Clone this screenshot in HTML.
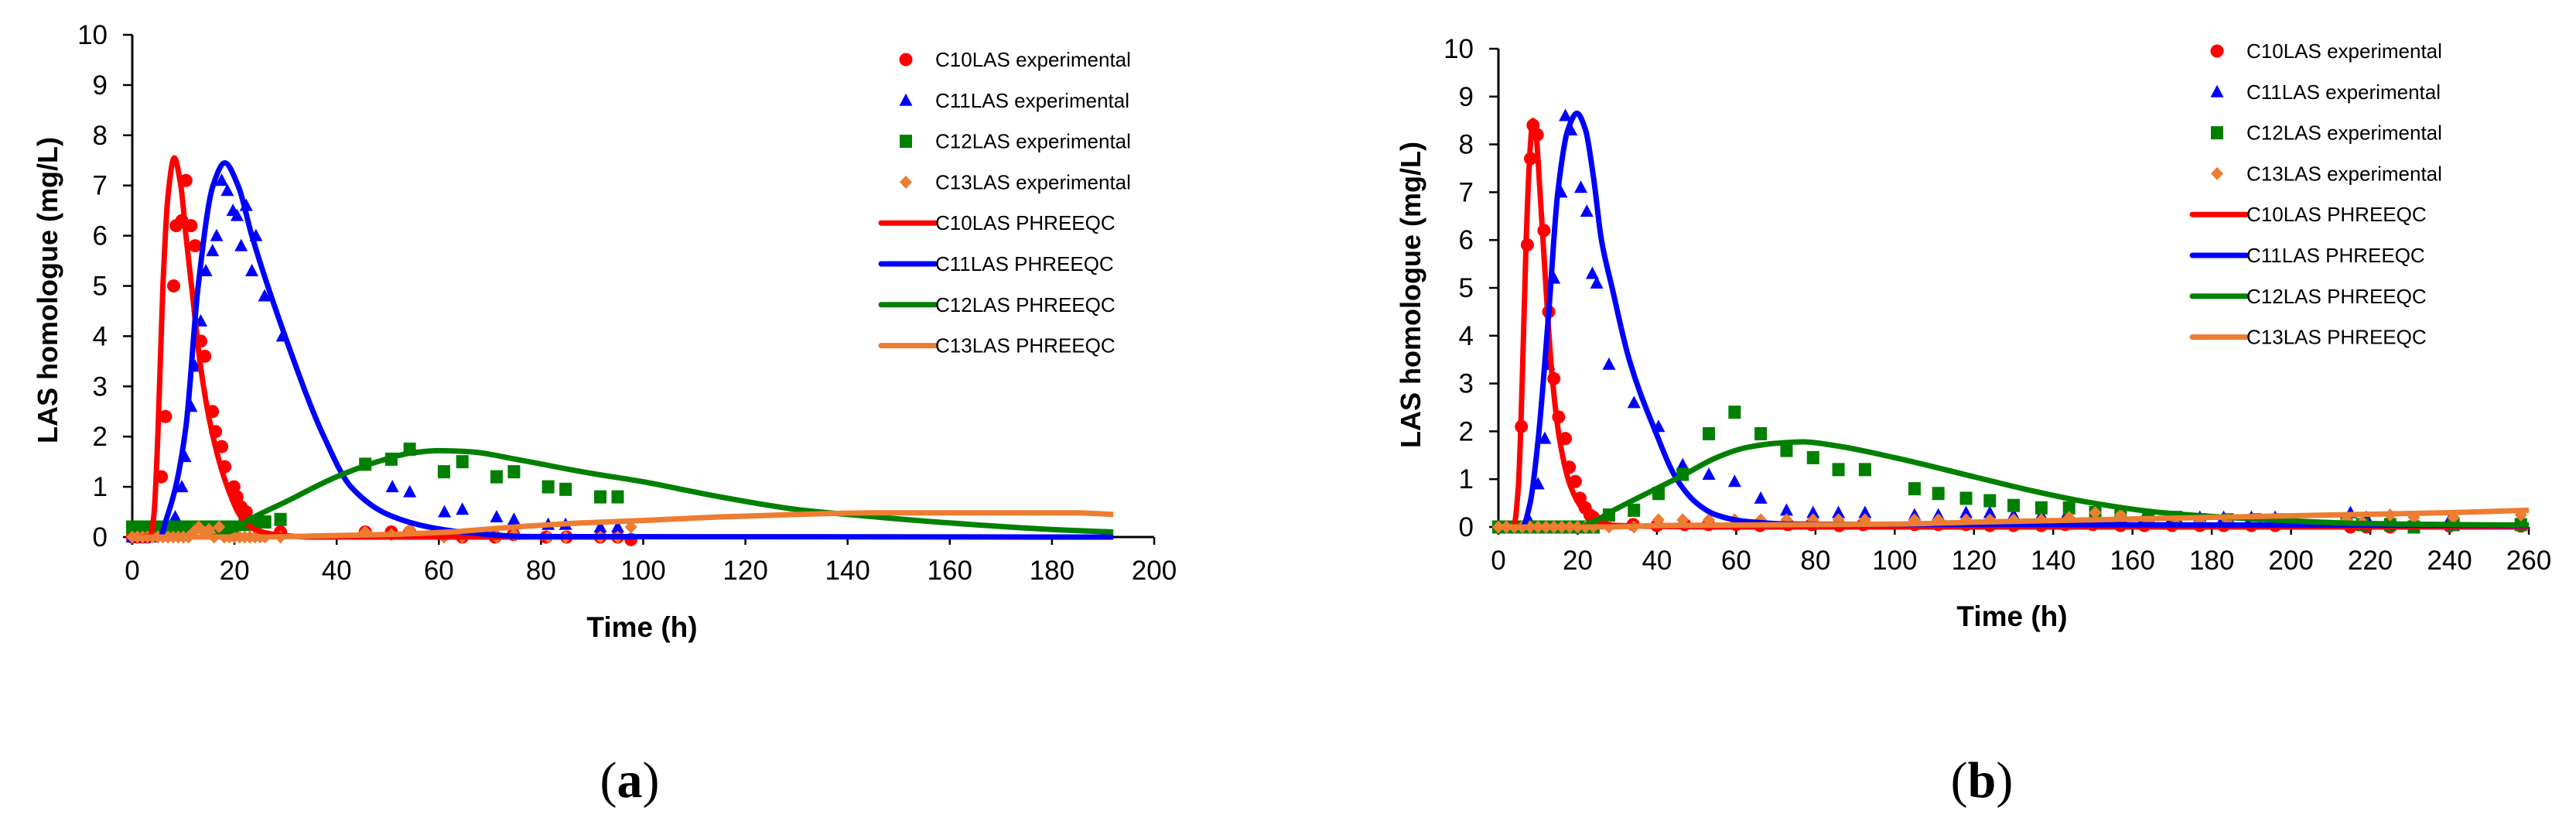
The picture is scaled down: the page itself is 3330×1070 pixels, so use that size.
<!DOCTYPE html>
<html><head><meta charset="utf-8">
<style>
html,body{margin:0;padding:0;background:#fff;}
svg{display:block;}
text{font-family:"Liberation Sans",Arial,sans-serif;}
text.serif{font-family:"Liberation Serif","Times New Roman",serif;}
</style></head>
<body>
<svg id="fig" width="3330" height="1070" viewBox="0 0 3330 1070" xmlns="http://www.w3.org/2000/svg">
<text class="serif" x="814" y="1030" font-size="66" text-anchor="middle">(<tspan font-weight="bold">a</tspan>)</text>
<text class="serif" x="2562" y="1030" font-size="66" text-anchor="middle">(<tspan font-weight="bold">b</tspan>)</text>
</svg>
<script>
// ---------- Chart A data ----------
const aC10expT=[0,1,2,3,4,5.7,6.5,8.1,8.6,9.7,10.5,11.5,12.3,13.4,14.2,15.7,16.3,17.5,18.1,19.9,20.5,21.3,22.3,23.9,29,45.6,50.7,54.3,61,64.6,71,74.6,81,85,91.6,95,97.6];
const aC10expV=[0,0,0,0,0.2,1.2,2.4,5,6.2,6.3,7.1,6.2,5.8,3.9,3.6,2.5,2.1,1.8,1.4,1.0,0.8,0.6,0.5,0.3,0.1,0.1,0.1,0.1,0.05,0,0,0.05,0,0,0,0,-0.05];
const aC11expT=[0,2,4,6,8.4,9.7,10.3,11.5,12.3,13.4,14.4,15.7,16.5,17.5,18.6,19.7,20.5,21.3,22.3,23.4,24.2,25.9,29.4,50.9,54.3,61.1,64.6,71.3,74.7,81.4,84.8,91.6,95];
const aC11expV=[0,0,0,0.1,0.4,1.0,1.6,2.6,3.4,4.3,5.3,5.7,6.0,7.1,6.9,6.5,6.4,5.8,6.6,5.3,6.0,4.8,4.0,1.0,0.9,0.5,0.55,0.4,0.35,0.25,0.25,0.2,0.2];
const aC12expT=[0,2,4,6,8,10,12,14,16,18,20,22,24,26,29,45.6,50.7,54.3,61,64.6,71.3,74.7,81.4,84.8,91.6,95];
const aC12expV=[0.2,0.2,0.2,0.2,0.2,0.2,0.2,0.2,0.2,0.2,0.2,0.25,0.3,0.3,0.35,1.45,1.55,1.75,1.3,1.5,1.2,1.3,1.0,0.95,0.8,0.8];
const aC13expT=[0,1,2,3,4,5,6,7,8,9,10,11,12,13,14,15,16,17,18,19,20,21,22,23,24,25,26,29,45.6,50.7,54.3,61,64.6,71.3,74.7,81.4,84.8,91.6,95,97.6];
const aC13expV=[0,0,0,0,0,0,0,0,0,0,0,0,0.1,0.2,0.1,0.15,0,0.2,0,0,0,0,0,0,0,0,0,0,0.1,0.05,0.15,0,0,0,0.05,0,0,0,0,0.2];
const aC10modT=[0,3.5,4.2,5,6,7,8.2,9.5,10.5,11.6,13.5,15.8,18.6,21.3,24,28,35,98];
const aC10modV=[0,0.02,0.4,2,5,6.8,7.55,7,6,5,3.3,2,1,0.4,0.15,0.05,0,0];
const aC11modT=[0,5.5,6.5,8.5,10.5,12.9,15.8,18.1,20.7,23.4,29.9,37.5,42.8,50,58,64.6,77.6,192];
const aC11modV=[0,0,0.3,1,2.2,5,7,7.45,7,6,4,2,1,0.45,0.2,0.1,0.01,0];
const aC12modT=[0,15,20,23,30,40,48,55,60,66,75,88,100,115,130,140,160,180,192];
const aC12modV=[0,0,0.15,0.35,0.7,1.2,1.5,1.68,1.72,1.7,1.55,1.3,1.1,0.8,0.55,0.45,0.28,0.15,0.1];
const aC13modT=[0,25,35,50,62,75,88,100,115,130,145,185,192];
const aC13modV=[0,0,0.02,0.05,0.1,0.2,0.28,0.33,0.4,0.45,0.48,0.48,0.45];
const aXTicks=[0,20,40,60,80,100,120,140,160,180,200];
const yTicks=[0,1,2,3,4,5,6,7,8,9,10];
// ---------- Chart B data ----------
const bC10expT=[0,1,2,3,4,5.8,7.3,8.1,8.75,9.8,11.5,12.7,14,15.2,16.9,17.9,19.4,20.6,21.9,23.1,24,34,40,47,53,60,66,73,79,86,92,105,111,118,124,130,137,143,150,157,163,170,177,183,190,196,215,219,225,231,240,258];
const bC10expV=[0,0,0,0,0,2.1,5.9,7.7,8.4,8.2,6.2,4.5,3.1,2.3,1.85,1.25,0.95,0.6,0.4,0.25,0.2,0.05,0.03,0.05,0.05,0.05,0.03,0.05,0.05,0.03,0.05,0.05,0.05,0.05,0.03,0.03,0.03,0.05,0.05,0.03,0.03,0.03,0.03,0.03,0.03,0.03,0,0,0,0,0.02,0.02];
const bC11expT=[0,2,4,6,8,10,11.7,12.7,14,15.8,16.9,18.3,20.8,22.3,23.7,24.8,27.9,34.2,40.4,46.5,53.1,59.6,66.2,72.7,79.4,85.8,92.5,105,111,118,124,130,137,143,150,157,163,170,177,183,190,196,215,219,225,231,240,258];
const bC11expV=[0,0,0,0,0.1,0.9,1.85,3.4,5.2,7.0,8.6,8.3,7.1,6.6,5.3,5.1,3.4,2.6,2.1,1.3,1.1,0.95,0.6,0.35,0.3,0.3,0.3,0.25,0.25,0.3,0.3,0.25,0.25,0.2,0.2,0.2,0.2,0.2,0.2,0.2,0.2,0.2,0.3,0.2,0.15,0.15,0.15,0.15];
const bC12expT=[0,2,4,6,8,10,12,14,16,18,20,22,24,27.9,34.2,40.4,46.5,53.1,59.6,66.2,72.7,79.4,85.8,92.5,105,111,118,124,130,137,144,150.6,157,164,171,177,184,191,197,214,218,225,231,241,258];
const bC12expV=[0,0,0,0,0,0,0,0,0,0,0,0,0,0.25,0.35,0.7,1.1,1.95,2.4,1.95,1.6,1.45,1.2,1.2,0.8,0.7,0.6,0.55,0.45,0.4,0.4,0.3,0.25,0.15,0.2,0.15,0.15,0.15,0.15,0.1,0.05,0.05,0,0.05,0.05];
const bC13expT=[0,2,4,6,8,10,12,14,16,18,20,22,24,27.9,34.2,40.4,46.5,53.1,59.6,66.2,72.7,79.4,85.8,92.5,105,111,118,124,130,137,144,150.6,157,164,171,177,184,191,197,214,218,225,231,241,258];
const bC13expV=[0,0,0,0,0,0,0,0,0,0,0,0,0,0,0,0.15,0.15,0.15,0.15,0.15,0.15,0.15,0.15,0.15,0.15,0.15,0.15,0.15,0.15,0.15,0.2,0.3,0.25,0.1,0.05,0.1,0.15,0.15,0.15,0.15,0.1,0.25,0.2,0.2,0.25];
const bC10modT=[0,3.8,5,6,7,8,8.7,9.5,10.5,12,13.5,15.5,18,21,24,30,60,260];
const bC10modV=[0,0,0.8,3,6,7.9,8.5,8.2,7,5,3.2,1.8,0.9,0.4,0.15,0.03,0,0];
const bC11modT=[0,6,8,10,12.7,15,17.5,19.8,22,24,26,28.7,33,39.6,45,50,55,62,75,260];
const bC11modV=[0,0,0.5,1.8,4.5,7,8.3,8.65,8.3,7.3,6,5,3.5,2,1,0.5,0.25,0.12,0.06,0.03];
const bC12modT=[0,20,25,28,35,47,55,62,70,77,85,100,120,135,150,165,180,195,215,240,260];
const bC12modV=[0,0,0.15,0.3,0.6,1.1,1.45,1.65,1.75,1.78,1.7,1.45,1.05,0.75,0.5,0.32,0.22,0.15,0.08,0.05,0.04];
const bC13modT=[0,28,40,80,100,120,150,180,210,240,260];
const bC13modV=[0,0,0.03,0.05,0.06,0.1,0.15,0.2,0.25,0.3,0.35];
const bXTicks=[0,20,40,60,80,100,120,140,160,180,200,220,240,260];
const legendLabels=["C10LAS experimental","C11LAS experimental","C12LAS experimental","C13LAS experimental","C10LAS PHREEQC","C11LAS PHREEQC","C12LAS PHREEQC","C13LAS PHREEQC"];
const colors=["#ff0000","#0000ff","#008000","#ed7d31"];

const NS="http://www.w3.org/2000/svg";
const svg=document.getElementById('fig');
function mk(tag,attrs,parent){const e=document.createElementNS(NS,tag);for(const k in attrs)e.setAttribute(k,attrs[k]);(parent||svg).appendChild(e);return e;}

function smoothPath(pts){
  const n=pts.length;
  const dx=[],dy=[],m=[];
  for(let i=0;i<n-1;i++){dx.push(pts[i+1][0]-pts[i][0]);dy.push(pts[i+1][1]-pts[i][1]);m.push(dy[i]/(dx[i]||1e-6));}
  const t=[m[0]];
  for(let i=1;i<n-1;i++){
    if(m[i-1]*m[i]<=0) t.push(0);
    else{const w1=2*dx[i]+dx[i-1],w2=dx[i]+2*dx[i-1];t.push((w1+w2)/(w1/m[i-1]+w2/m[i]));}
  }
  t.push(m[n-2]);
  let d="M"+pts[0][0].toFixed(1)+","+pts[0][1].toFixed(1);
  for(let i=0;i<n-1;i++){
    const h=dx[i]/3;
    d+=" C"+(pts[i][0]+h).toFixed(1)+","+(pts[i][1]+t[i]*h).toFixed(1)+" "+(pts[i+1][0]-h).toFixed(1)+","+(pts[i+1][1]-t[i+1]*h).toFixed(1)+" "+pts[i+1][0].toFixed(1)+","+pts[i+1][1].toFixed(1);
  }
  return d;
}

function marker(g,kind,cx,cy,color){
  let e;
  if(kind===0) e=mk('ellipse',{cx:cx,cy:cy,rx:8.5,ry:8.5,fill:color},g);
  else if(kind===1) e=mk('polygon',{points:`${cx},${cy-9} ${cx+8.5},${cy+7} ${cx-8.5},${cy+7}`,fill:color},g);
  else if(kind===2) e=mk('rect',{x:cx-8,y:cy-8.5,width:16,height:17,fill:color},g);
  else e=mk('polygon',{points:`${cx},${cy-8.5} ${cx+8},${cy} ${cx},${cy+8.5} ${cx-8},${cy}`,fill:color},g);
  return e;
}

function chart(id,cfg){
  const g=mk('g',{});
  
  
  const X=v=>cfg.x0+(v-cfg.xmin)/(cfg.xmax-cfg.xmin)*(cfg.x1-cfg.x0);
  const Y=v=>cfg.y0-(v/10)*(cfg.y0-cfg.y10);
  const ax=mk('line',{x1:cfg.x0,y1:Y(0),x2:X(cfg.xmax),y2:Y(0),stroke:'#000','stroke-width':3},g);
  
  
  const ay=mk('line',{x1:cfg.x0,y1:Y(0)+1,x2:cfg.x0,y2:Y(10),stroke:'#000','stroke-width':3},g);
  
  
  yTicks.forEach(v=>{
    mk('line',{x1:cfg.x0-12,y1:Y(v),x2:cfg.x0,y2:Y(v),stroke:'#000','stroke-width':2.5},g);
    const t=mk('text',{x:cfg.x0-32,y:Y(v)+12,'font-size':35,'text-anchor':'end'},g);
    t.textContent=v;
    
    
  });
  cfg.xticks.forEach(v=>{
    mk('line',{x1:X(v),y1:Y(0),x2:X(v),y2:Y(0)+10,stroke:'#000','stroke-width':2.5},g);
    const t=mk('text',{x:X(v),y:Y(0)+55,'font-size':35,'text-anchor':'middle'},g);
    t.textContent=v;
    
    
  });
  const xt=mk('text',{x:cfg.xtx,y:cfg.xty,'font-size':37,'font-weight':'bold','text-anchor':'middle'},g);
  xt.textContent='Time (h)';
  
  
  const yt=mk('text',{x:0,y:0,'font-size':36,'font-weight':'bold','text-anchor':'middle',transform:`translate(${cfg.ytx},${cfg.yty}) rotate(-90)`},g);
  yt.textContent='LAS homologue (mg/L)';
  
  
  cfg.exp.forEach((s,k)=>{
    const sg=mk('g',{},g);
    
    
    s[0].forEach((t,i)=>{
      const m=marker(sg,k,X(t),Y(s[1][i]),colors[k]);
      
      
    });
  });
  cfg.mod.forEach((s,k)=>{
    const pts=s[0].map((t,i)=>[X(t),Y(s[1][i])]);
    const p=mk('path',{d:smoothPath(pts),fill:'none',stroke:colors[k],'stroke-width':7,'stroke-linejoin':'round'},g);
    
    
  });
  const lg=mk('g',{},g);
  
  
  legendLabels.forEach((lab,i)=>{
    const yy=cfg.ly+i*52.8;
    const eg=mk('g',{},lg);
    
    
    if(i<4) marker(eg,i,cfg.lmx,yy,colors[i]);
    else mk('line',{x1:cfg.lmx-32,y1:yy,x2:cfg.ltx,y2:yy,stroke:colors[i-4],'stroke-width':7,'stroke-linecap':'round'},eg);
    const t=mk('text',{x:cfg.ltx,y:yy+9,'font-size':26},eg);
    t.textContent=lab;
  });
}

chart('a',{x0:171,x1:1492,xmin:0,xmax:200,y0:694,y10:45,xticks:aXTicks,xtx:830,xty:823,ytx:74,yty:375,
  lmx:1171,ltx:1209,ly:77,
  exp:[[aC10expT,aC10expV],[aC11expT,aC11expV],[aC12expT,aC12expV],[aC13expT,aC13expV]],
  mod:[[aC10modT,aC10modV],[aC11modT,aC11modV],[aC12modT,aC12modV],[aC13modT,aC13modV]]});
chart('b',{x0:1937,x1:3269,xmin:0,xmax:260,y0:681,y10:63,xticks:bXTicks,xtx:2601,xty:809,ytx:1836,yty:381,
  lmx:2866,ltx:2904,ly:66,
  exp:[[bC10expT,bC10expV],[bC11expT,bC11expV],[bC12expT,bC12expV],[bC13expT,bC13expV]],
  mod:[[bC10modT,bC10modV],[bC11modT,bC11modV],[bC12modT,bC12modV],[bC13modT,bC13modV]]});
</script>
</body></html>
